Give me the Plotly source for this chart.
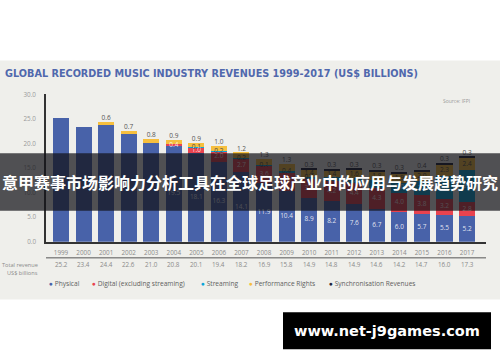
import plotly.graph_objects as go

years = list(range(1999, 2018))
physical = [25.2, 23.4, 23.8, 21.9, 20.2, 19.5, 18.1, 16.3, 14.1, 11.9, 10.4, 8.9, 8.2, 7.6, 6.7, 6.0, 5.7, 5.5, 5.2]
digital = [0, 0, 0, 0, 0, 0.4, 1.0, 2.0, 2.7, 3.6, 3.7, 3.9, 4.2, 4.4, 4.3, 4.0, 3.8, 3.2, 2.8]
streaming = [0, 0, 0, 0, 0, 0, 0.1, 0.2, 0.2, 0.1, 0.4, 0.4, 0.7, 1.0, 1.5, 2.0, 2.8, 4.7, 6.6]
performance = [0, 0, 0.6, 0.7, 0.8, 0.9, 0.9, 1.0, 1.2, 1.3, 1.3, 1.4, 1.4, 1.6, 1.8, 1.9, 2.0, 2.3, 2.4]
sync = [0, 0, 0, 0, 0, 0, 0, 0, 0, 0, 0, 0.3, 0.3, 0.3, 0.3, 0.3, 0.4, 0.3, 0.3]
totals = [25.2, 23.4, 24.4, 22.6, 21.0, 20.8, 20.1, 19.4, 18.2, 16.9, 15.8, 14.9, 14.8, 14.9, 14.6, 14.2, 14.7, 16.0, 17.3]
# first year each series gets a value label
label_from = {"Physical": 2004, "Digital (excluding streaming)": 2004, "Streaming": 2005,
              "Performance Rights": 2001, "Synchronisation Revenues": 2010}

series = [
    ("Physical", physical, "#4862a9"),
    ("Digital (excluding streaming)", digital, "#e8434f"),
    ("Streaming", streaming, "#0aa5d8"),
    ("Performance Rights", performance, "#f6bf3e"),
    ("Synchronisation Revenues", sync, "#23243a"),
]

H = 362.0
def py(p):
    return 1 - p / H

fig = go.Figure()
for name, vals, col in series:
    fig.add_trace(go.Bar(x=years, y=vals, name=name, marker=dict(color=col, line=dict(width=0)),
                         width=0.71, showlegend=False, hoverinfo="skip"))

# value labels (as a text trace so the banner covers them)
lx, ly, lt, lc, lp = [], [], [], [], []
for i, yr in enumerate(years):
    base = 0.0
    segs = [(n, v[i]) for n, v, c in series]
    top_idx = max(k for k, (n, v) in enumerate(segs) if v > 0)
    for k, (n, v) in enumerate(segs):
        if v <= 0:
            continue
        if yr >= label_from[n]:
            if k == top_idx and v < 1.5:
                lx.append(yr); ly.append(base + v); lt.append(f"{v:.1f}")
                lc.append("#555555"); lp.append("top center")
            else:
                lx.append(yr); ly.append(base + v / 2); lt.append(f"{v:.1f}")
                dark = n == "Performance Rights" or (n == "Streaming" and v < 0.5)
                lc.append("#4a4a4a" if dark else "rgba(255,255,255,0.85)")
                lp.append("middle center")
        base += v

fig.add_trace(go.Scatter(x=lx, y=ly, text=lt, mode="text", textposition=lp,
                         textfont=dict(size=6.5, color=lc, family="Open Sans"),
                         showlegend=False, hoverinfo="skip"))

shapes = [
    dict(type="rect", xref="paper", yref="paper", x0=0, x1=1, y0=py(302), y1=py(57),
         fillcolor="#efefeb", line=dict(width=0), layer="below"),
    dict(type="line", xref="paper", yref="paper", x0=46 / 500, x1=486 / 500, y0=py(259.3), y1=py(259.3),
         line=dict(color="#555555", width=1), layer="above"),
    dict(type="rect", xref="paper", yref="paper", x0=0, x1=1, y0=py(211), y1=py(152),
         fillcolor="rgba(18,18,24,0.72)", line=dict(width=0), layer="above"),
    dict(type="rect", xref="paper", yref="paper", x0=283 / 500, x1=491 / 500, y0=py(353), y1=py(315),
         fillcolor="#000000", line=dict(width=0), layer="above"),
]

ann = []
ann.append(dict(text="<b>GLOBAL RECORDED MUSIC INDUSTRY REVENUES 1999-2017 (US$ BILLIONS)</b>",
                xref="paper", yref="paper", x=3 / 500, y=py(70), xanchor="left", yanchor="middle",
                showarrow=False, font=dict(size=9.7, color="#5068ad", family="DejaVu Sans")))
ann.append(dict(text="Source: IFPI", xref="paper", yref="paper", x=441 / 500, y=py(98),
                xanchor="left", yanchor="middle", showarrow=False,
                font=dict(size=5, color="#9a9a9a", family="Open Sans")))
for yr, t in zip(years, totals):
    ann.append(dict(text=f"{t:.1f}", xref="x", yref="paper", x=yr, y=py(266.3), xanchor="center",
                    yanchor="middle", showarrow=False, font=dict(size=6.3, color="#8a8a8a", family="Open Sans")))
ann.append(dict(text="Total revenue", xref="paper", yref="paper", x=40 / 500, y=py(266.3), xanchor="right",
                yanchor="middle", showarrow=False, font=dict(size=5.6, color="#8a8a8a", family="Open Sans")))
ann.append(dict(text="US$ billions", xref="paper", yref="paper", x=40 / 500, y=py(274.5), xanchor="right",
                yanchor="middle", showarrow=False, font=dict(size=5.6, color="#8a8a8a", family="Open Sans")))

legend_x = [47, 90, 199, 247, 327]
for (name, vals, col), lxp in zip(series, legend_x):
    ann.append(dict(text=f'<span style="color:{col}">●</span> {name}', xref="paper", yref="paper",
                    x=lxp / 500, y=py(285.7), xanchor="left", yanchor="middle", showarrow=False,
                    font=dict(size=6.6, color="#606060", family="Open Sans")))

ann.append(dict(text="<b>意甲赛事市场影响力分析工具在全球足球产业中的应用与发展趋势研究</b>",
                xref="paper", yref="paper", x=0, y=py(182), xanchor="left", yanchor="middle",
                showarrow=False, font=dict(size=16, color="#ffffff", family="Noto Sans CJK SC")))
ann.append(dict(text="<b>www.net-j9games.com</b>", xref="paper", yref="paper", x=387 / 500, y=py(334),
                xanchor="center", yanchor="middle", showarrow=False,
                font=dict(size=14.5, color="#ffffff", family="DejaVu Sans")))

fig.update_layout(
    width=500, height=362, margin=dict(l=0, r=0, t=0, b=0),
    paper_bgcolor="#ffffff", plot_bgcolor="rgba(0,0,0,0)",
    barmode="stack", showlegend=False,
    shapes=shapes, annotations=ann,
    xaxis=dict(domain=[46 / 500, 486 / 500], range=[1998.335, 2017.84], tickmode="array",
               tickvals=years, ticktext=[str(y) for y in years], showgrid=False, zeroline=False,
               showline=True, linecolor="#333333", linewidth=1.5, ticks="", ticklabelstandoff=4,
               tickfont=dict(size=6.3, color="#8a8a8a", family="Open Sans")),
    yaxis=dict(domain=[py(242.7), py(91.7)], range=[0, 30], tickvals=[0, 5, 10, 15, 20, 25, 30],
               tickformat=".1f", showgrid=False, zeroline=False, showline=True, linecolor="#333333",
               linewidth=1.5, ticks="", ticklabelstandoff=7,
               tickfont=dict(size=6.3, color="#9a9a9a", family="Open Sans")),
)

fig.write_html("out.html")
